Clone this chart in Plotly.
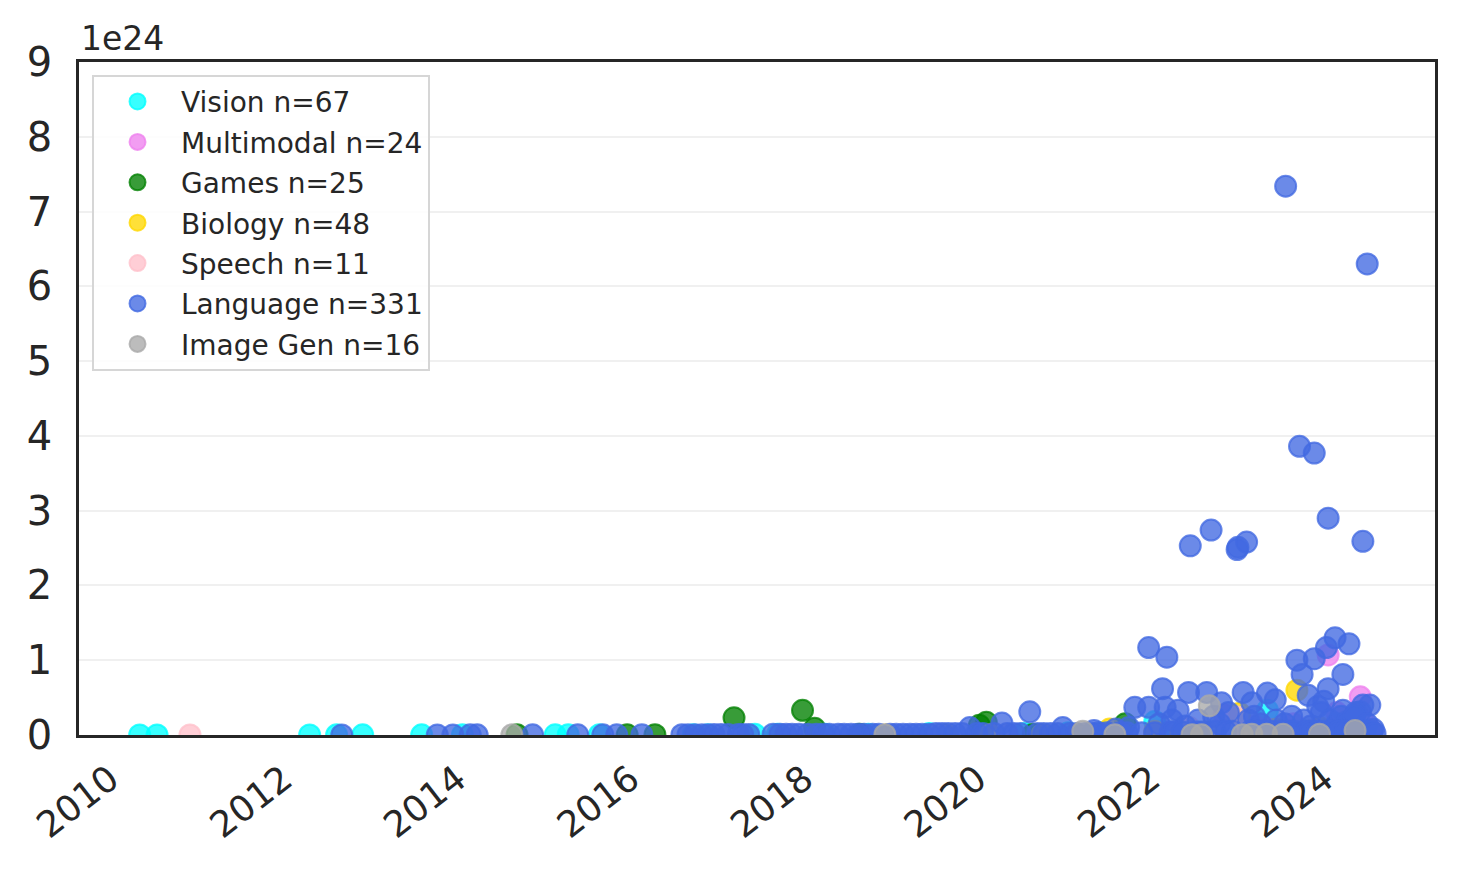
import pandas as pd
import plotly.graph_objects as go

# ---- data (x: publication date as decimal year, y: training compute in units of 1e24 FLOP) ----
SCALE = 1e24

vision_year = [2010.20, 2010.40, 2012.16, 2012.47, 2012.77, 2013.45, 2013.92, 2014.99, 2015.14,
               2015.50, 2016.58, 2016.75, 2017.29, 2017.55, 2018.10, 2018.60, 2019.30, 2019.90,
               2020.40, 2020.90, 2021.30, 2021.90, 2021.94, 2022.40, 2022.90, 2023.20, 2023.60]
vision_val = [0.001, 0.001, 0.001, 0.002, 0.002, 0.002, 0.003, 0.003, 0.004,
              0.004, 0.005, 0.005, 0.01, 0.01, 0.01, 0.01, 0.02, 0.02,
              0.02, 0.03, 0.03, 0.18, 0.05, 0.04, 0.05, 0.33, 0.06]

multimodal_year = [2021.90, 2022.30, 2022.70, 2022.95, 2023.05, 2023.20, 2023.50, 2023.90,
                   2024.00, 2024.27, 2024.30, 2024.40]
multimodal_val = [0.02, 0.05, 0.27, 0.05, 0.12, 0.08, 0.15, 1.07,
                  0.30, 0.51, 0.20, 0.05]

games_year = [2014.55, 2015.82, 2016.14, 2017.05, 2017.84, 2017.98, 2018.50, 2019.88,
              2019.96, 2020.50, 2021.30, 2021.56]
games_val = [0.003, 0.003, 0.005, 0.23, 0.33, 0.09, 0.01, 0.13,
             0.17, 0.01, 0.02, 0.15]

biology_year = [2018.80, 2019.50, 2020.00, 2020.60, 2021.00, 2021.38, 2021.90, 2022.20,
                2022.50, 2022.88, 2023.10, 2023.30, 2023.54, 2023.80, 2024.10, 2024.30]
biology_val = [0.001, 0.002, 0.003, 0.005, 0.01, 0.08, 0.05, 0.03,
               0.04, 0.29, 0.05, 0.08, 0.60, 0.10, 0.05, 0.04]

speech_year = [2010.78, 2019.40, 2020.20, 2021.20, 2022.30, 2022.60, 2022.85, 2023.10,
               2023.70, 2024.00, 2024.20]
speech_val = [0.001, 0.002, 0.003, 0.01, 0.10, 0.04, 0.24, 0.05,
              0.06, 0.03, 0.02]

language_year = [
    # large models
    2023.41, 2024.35, 2023.57, 2023.74, 2023.90, 2024.30, 2022.31, 2022.55, 2022.86, 2022.85,
    2022.96, 2021.83, 2022.04, 2023.54, 2023.74, 2023.88, 2023.98, 2024.14, 2023.60, 2024.07,
    2023.90, 2023.67, 2021.99, 2021.67, 2021.83, 2022.02, 2022.17, 2022.29, 2022.50, 2022.67,
    2022.92, 2023.20, 2023.02, 2023.29, 2024.30, 2024.38, 2024.27, 2020.46, 2020.14, 2019.77,
    2020.84, 2024.07, 2023.85, 2023.78, 2024.22,
    # mid-low band
    2021.20, 2021.45, 2021.60, 2021.95, 2022.10, 2022.25, 2022.40, 2022.58, 2022.65, 2022.75,
    2022.98, 2023.05, 2023.12, 2023.30, 2023.40, 2023.48, 2023.62, 2023.70, 2023.82, 2023.92,
    2024.00, 2024.05, 2024.12, 2024.20, 2024.35, 2024.42,
    # near zero
    2012.53, 2013.63, 2013.81, 2014.01, 2014.09, 2014.73, 2015.25, 2015.54, 2015.70, 2015.99,
    2016.45, 2016.52, 2016.60, 2016.68, 2016.75, 2016.82, 2016.90, 2016.98, 2017.10, 2017.15,
    2017.22, 2017.50, 2017.58, 2017.65, 2017.72, 2017.80, 2017.90, 2018.00, 2018.08, 2018.15,
    2018.25, 2018.32, 2018.40, 2018.48, 2018.55, 2018.65, 2018.72, 2018.85, 2018.92, 2019.00,
    2019.08, 2019.15, 2019.22, 2019.30, 2019.38, 2019.45, 2019.52, 2019.60, 2019.68, 2019.85,
    2019.92, 2020.05, 2020.20, 2020.28, 2020.35, 2020.55, 2020.62, 2020.70, 2020.78, 2020.92,
    2021.00, 2021.10, 2021.18, 2021.25, 2021.35, 2021.50, 2021.58, 2021.75, 2021.90, 2022.08,
    2022.12, 2022.22, 2022.38, 2022.45, 2022.60, 2022.72, 2022.80, 2023.00, 2023.10, 2023.15,
    2023.25, 2023.35, 2023.45, 2023.50, 2023.65, 2023.70, 2023.78, 2023.85, 2023.95, 2024.02,
    2024.10, 2024.18, 2024.25, 2024.33, 2024.40, 2024.44,
]
language_val = [
    7.34, 6.30, 3.86, 3.77, 2.90, 2.59, 2.53, 2.74, 2.51, 2.48,
    2.58, 1.17, 1.04, 1.00, 1.02, 1.17, 1.30, 1.22, 0.81, 0.81,
    0.62, 0.53, 0.62, 0.37, 0.37, 0.37, 0.33, 0.57, 0.57, 0.43,
    0.57, 0.56, 0.43, 0.47, 0.40, 0.40, 0.31, 0.31, 0.16, 0.10,
    0.10, 0.33, 0.45, 0.38, 0.30,
    0.06, 0.08, 0.10, 0.15, 0.20, 0.12, 0.20, 0.25, 0.15, 0.30,
    0.20, 0.25, 0.15, 0.20, 0.15, 0.25, 0.20, 0.12, 0.30, 0.20,
    0.15, 0.25, 0.18, 0.25, 0.15, 0.08,
    0.001, 0.001, 0.001, 0.002, 0.002, 0.002, 0.003, 0.003, 0.003, 0.004,
    0.004, 0.004, 0.005, 0.005, 0.005, 0.006, 0.006, 0.006, 0.008, 0.008,
    0.008, 0.01, 0.01, 0.01, 0.01, 0.01, 0.01, 0.01, 0.01, 0.01,
    0.01, 0.01, 0.01, 0.01, 0.01, 0.01, 0.01, 0.01, 0.01, 0.01,
    0.01, 0.01, 0.01, 0.01, 0.02, 0.02, 0.02, 0.02, 0.02, 0.02,
    0.02, 0.02, 0.02, 0.02, 0.02, 0.02, 0.02, 0.02, 0.02, 0.02,
    0.02, 0.02, 0.02, 0.03, 0.03, 0.03, 0.03, 0.03, 0.03, 0.04,
    0.04, 0.04, 0.04, 0.04, 0.05, 0.05, 0.05, 0.05, 0.05, 0.05,
    0.05, 0.05, 0.05, 0.05, 0.05, 0.05, 0.05, 0.05, 0.05, 0.05,
    0.05, 0.05, 0.05, 0.05, 0.05, 0.02,
]

imagegen_year = [2014.49, 2018.79, 2021.07, 2021.44, 2022.33, 2022.44, 2022.53, 2022.91,
                 2023.02, 2023.19, 2023.38, 2023.80, 2024.21]
imagegen_val = [0.002, 0.005, 0.05, 0.005, 0.005, 0.002, 0.39, 0.005,
                0.01, 0.01, 0.01, 0.01, 0.06]

categories = ["Vision", "Multimodal", "Games", "Biology", "Speech", "Language", "Image Gen"]
counts = [67, 24, 25, 48, 11, 331, 16]
colors = ["0,255,255", "238,130,238", "0,128,0", "255,215,0", "255,192,203", "65,105,225", "169,169,169"]
series = [
    (vision_year, vision_val), (multimodal_year, multimodal_val), (games_year, games_val),
    (biology_year, biology_val), (speech_year, speech_val), (language_year, language_val),
    (imagegen_year, imagegen_val),
]
y_ticks = list(range(0, 10))


def to_date(y):
    yr = int(y)
    start = pd.Timestamp(yr, 1, 1)
    return start + (pd.Timestamp(yr + 1, 1, 1) - start) * (y - yr)


fig = go.Figure()
for name, n, col, (xs, ys) in zip(categories, counts, colors, series):
    fig.add_trace(go.Scatter(
        x=[to_date(v) for v in xs],
        y=[v * SCALE for v in ys],
        mode="markers",
        name=f"{name} n={n}",
        legendgroup=name,
        marker=dict(size=21, color=f"rgba({col},0.78)",
                    line=dict(width=2, color=f"rgba({col},0.78)")),
        cliponaxis=True,
    ))

FONT = "DejaVu Sans"
TXT = "#262626"

# the page body has an 8px margin, so the figure is sized to fit the 1460x871 window
fig.update_layout(
    width=1444, height=855,
    paper_bgcolor="white", plot_bgcolor="white",
    margin=dict(l=71, r=17, t=54, b=128),
    font=dict(family=FONT, color=TXT),
    showlegend=True,
    legend=dict(
        x=0.0096, y=0.981, xanchor="left", yanchor="top",
        bgcolor="rgba(255,255,255,0.85)", bordercolor="#d6d6d6", borderwidth=2,
        font=dict(size=28, family=FONT, color=TXT),
        itemsizing="trace", itemwidth=77, tracegroupgap=1,
    ),
    xaxis=dict(
        type="date",
        range=[to_date(2009.50), to_date(2025.13)],
        tick0="2010-01-01", dtick="M24", tickformat="%Y",
        tickangle=-38, tickfont=dict(size=36, family=FONT, color=TXT),
        showgrid=False, zeroline=False,
        showline=True, linecolor=TXT, linewidth=2.5, mirror=True,
        ticks="", ticklabelstandoff=6, ticklabelshift=-12,
    ),
    yaxis=dict(
        range=[0, 9 * SCALE],
        tickvals=[t * SCALE for t in y_ticks], ticktext=[str(t) for t in y_ticks],
        tickfont=dict(size=40, family=FONT, color=TXT),
        showgrid=True, gridcolor="#f0f0f0", gridwidth=2,
        zeroline=False,
        showline=True, linecolor=TXT, linewidth=2.5, mirror=True,
        ticks="", ticklabelstandoff=16,
    ),
    annotations=[dict(
        text="1e24", xref="paper", yref="paper", x=0, y=1,
        xanchor="left", yanchor="bottom", yshift=2, showarrow=False,
        font=dict(size=33, family=FONT, color=TXT),
    )],
)

fig.write_html("out.html")
